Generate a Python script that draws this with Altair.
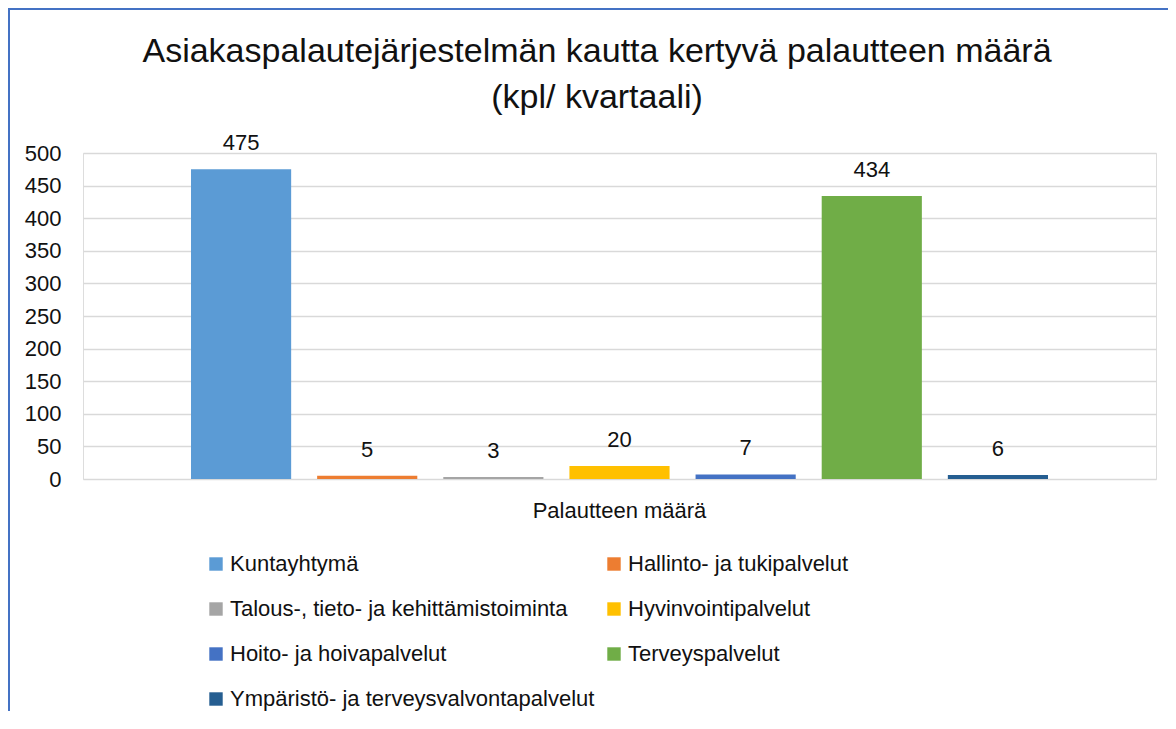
import altair as alt
import pandas as pd

series = [
    "Kuntayhtymä",
    "Hallinto- ja tukipalvelut",
    "Talous-, tieto- ja kehittämistoiminta",
    "Hyvinvointipalvelut",
    "Hoito- ja hoivapalvelut",
    "Terveyspalvelut",
    "Ympäristö- ja terveysvalvontapalvelut",
]
values = [475, 5, 3, 20, 7, 434, 6]
colors = ["#5B9BD5", "#ED7D31", "#A5A5A5", "#FFC000", "#4472C4", "#70AD47", "#255E91"]
category = "Palautteen määrä"
y_ticks = [0, 50, 100, 150, 200, 250, 300, 350, 400, 450, 500]
title_lines = ["Asiakaspalautejärjestelmän kautta kertyvä palautteen määrä", "(kpl/ kvartaali)"]

df = pd.DataFrame({"cat": [category] * len(series), "series": series, "value": values})

FONT = "Liberation Sans"
TXT = "#111111"

W, H = 1073, 326

x = alt.X("cat:N", title=None,
          scale=alt.Scale(paddingInner=0, paddingOuter=0.1076),
          axis=alt.Axis(labelAngle=0, labelFontSize=22, labelFont=FONT, labelColor=TXT,
                        labelPadding=21, ticks=False, domain=False, grid=False))
xo = alt.XOffset("series:N", sort=series,
                 scale=alt.Scale(domain=series, paddingInner=0.206, paddingOuter=0.103))
y = alt.Y("value:Q", title=None,
          scale=alt.Scale(domain=[0, 500], nice=False),
          axis=alt.Axis(values=y_ticks, labelFontSize=22, labelFont=FONT, labelColor=TXT,
                        labelPadding=22, ticks=False, domain=False, labelOverlap=False,
                        gridColor="#D9D9D9", gridWidth=1.5))
color = alt.Color("series:N", sort=series,
                  scale=alt.Scale(domain=series, range=colors),
                  legend=alt.Legend(title=None, orient="none", legendX=122, legendY=400,
                                    direction="horizontal",
                                    columns=2, columnPadding=8, rowPadding=23,
                                    symbolType="square", symbolSize=180, symbolStrokeWidth=0,
                                    labelFontSize=22, labelFont=FONT, labelColor=TXT,
                                    labelOffset=3, labelLimit=500, padding=0))

bars = alt.Chart(df).mark_bar().encode(x=x, xOffset=xo, y=y, color=color)
labels = alt.Chart(df).mark_text(fontSize=22, font=FONT, color=TXT, baseline="middle", dy=-26).encode(
    x=x, xOffset=xo, y=y, text="value:Q")

title1 = alt.Chart(pd.DataFrame({"t": [title_lines[0]]})).mark_text(
    fontSize=34, font=FONT, color=TXT, align="center", baseline="middle").encode(
    x=alt.value(514), y=alt.value(-101), text="t:N")
title2 = alt.Chart(pd.DataFrame({"t": [title_lines[1]]})).mark_text(
    fontSize=34, font=FONT, color=TXT, align="center", baseline="middle").encode(
    x=alt.value(514), y=alt.value(-55), text="t:N")

frame_df = pd.DataFrame({"k": [0]})
top_line = alt.Chart(frame_df).mark_rule(color="#4472C4", strokeWidth=2).encode(
    x=alt.value(-75), x2=alt.value(W + 12), y=alt.value(-144))
left_line = alt.Chart(frame_df).mark_rule(color="#4472C4", strokeWidth=2).encode(
    x=alt.value(-74), y=alt.value(-145), y2=alt.value(H + 232))

chart = alt.layer(bars, labels, title1, title2, top_line, left_line).properties(
    width=W, height=H,
    padding={"left": 75, "top": 145, "right": 12, "bottom": 232},
    autosize=alt.AutoSizeParams(type="none"),
).configure_view(stroke=None).configure(background="white")

chart.save("out.html", embed_options={"renderer": "svg", "actions": False})
